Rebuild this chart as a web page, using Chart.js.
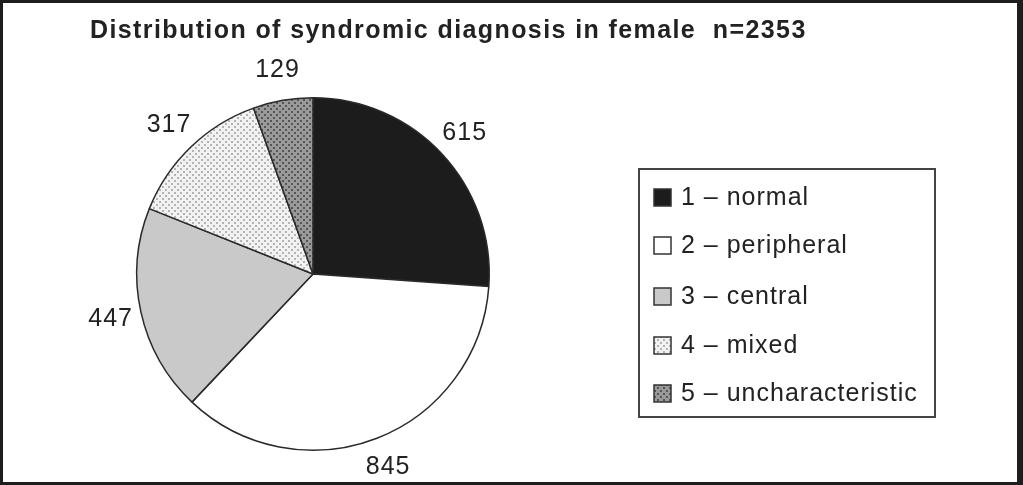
<!DOCTYPE html>
<html>
<head>
<meta charset="utf-8">
<script src="https://cdn.jsdelivr.net/npm/chart.js@4"></script>
<style>
    html, body { margin: 0; padding: 0; background: #fff; }
    #wrap { width: 1023px; height: 485px; position: relative; }
</style>
</head>
<body>
<div id="wrap"><canvas id="pieChart" width="1023" height="485"></canvas></div>
<script>
// Chart data
const categories = ['1 \u2013 normal', '2 \u2013 peripheral', '3 \u2013 central', '4 \u2013 mixed', '5 \u2013 uncharacteristic'];
const counts = [615, 845, 447, 317, 129];
const chartTitle = 'Distribution of syndromic diagnosis in female  n=2353';

// Build a dotted fill pattern for the print-style slices
function makePattern(bg, dot, size) {
    const c = document.createElement('canvas');
    c.width = size;
    c.height = size;
    const g = c.getContext('2d');
    g.fillStyle = bg;
    g.fillRect(0, 0, size, size);
    g.fillStyle = dot;
    g.fillRect(0, 0, 2, 2);
    g.fillRect(size / 2, size / 2, 2, 2);
    return g.createPattern(c, 'repeat');
}

const fills = [
    '#1c1c1c',
    '#ffffff',
    '#c9c9c9',
    makePattern('#f2f2f2', '#b4b4b4', 6),
    makePattern('#9a9a9a', '#555555', 6)
];

// Frame, title, outside labels and the boxed legend
const decorPlugin = {
    id: 'decor',
    beforeDraw(chart) {
        const ctx = chart.ctx;
        ctx.save();
        ctx.fillStyle = '#1e1e1e';
        ctx.fillRect(0, 0, chart.width, chart.height);
        ctx.fillStyle = '#ffffff';
        ctx.fillRect(3, 3, chart.width - 9, chart.height - 6);
        ctx.restore();
    },
    afterDraw(chart) {
        const ctx = chart.ctx;
        ctx.save();

        // title
        ctx.fillStyle = '#222';
        ctx.font = 'bold 25px "Liberation Sans", Arial, sans-serif';
        ctx.letterSpacing = '1.4px';
        ctx.textBaseline = 'alphabetic';
        ctx.textAlign = 'left';
        ctx.fillText(chartTitle, 90, 38);

        // value labels outside slices
        ctx.font = '25px "Liberation Sans", Arial, sans-serif';
        ctx.letterSpacing = '1px';
        ctx.textAlign = 'center';
        ctx.textBaseline = 'middle';
        const arcs = chart.getDatasetMeta(0).data;
        arcs.forEach((arc, i) => {
            const p = arc.getProps(['x', 'y', 'startAngle', 'endAngle', 'outerRadius'], true);
            const mid = (p.startAngle + p.endAngle) / 2;
            const dist = p.outerRadius + 31;
            ctx.fillText(String(counts[i]), p.x + Math.cos(mid) * dist, p.y + Math.sin(mid) * dist);
        });

        // legend box
        const lx = 639, ly = 169, lw = 296, lh = 248;
        ctx.strokeStyle = '#444';
        ctx.lineWidth = 2;
        ctx.strokeRect(lx, ly, lw, lh);

        const rowY = [197, 245, 296, 345, 393];
        ctx.textAlign = 'left';
        ctx.font = '25px "Liberation Sans", Arial, sans-serif';
        ctx.letterSpacing = '1px';
        categories.forEach((name, i) => {
            const y = rowY[i];
            ctx.fillStyle = fills[i];
            ctx.fillRect(654, y - 8, 17, 17);
            ctx.strokeStyle = '#333';
            ctx.lineWidth = 1.5;
            ctx.strokeRect(654, y - 8, 17, 17);
            ctx.fillStyle = '#222';
            ctx.fillText(name, 681, y + 1);
        });

        ctx.restore();
    }
};

new Chart(document.getElementById('pieChart'), {
    type: 'pie',
    data: {
        labels: categories,
        datasets: [{
            data: counts,
            backgroundColor: fills,
            borderColor: '#2a2a2a',
            borderWidth: 1.5
        }]
    },
    options: {
        responsive: false,
        animation: false,
        layout: {
            padding: { left: 136, right: 533, top: 97, bottom: 34 }
        },
        plugins: {
            legend: { display: false },
            tooltip: { enabled: false },
            title: { display: false }
        }
    },
    plugins: [decorPlugin]
});
</script>
</body>
</html>
